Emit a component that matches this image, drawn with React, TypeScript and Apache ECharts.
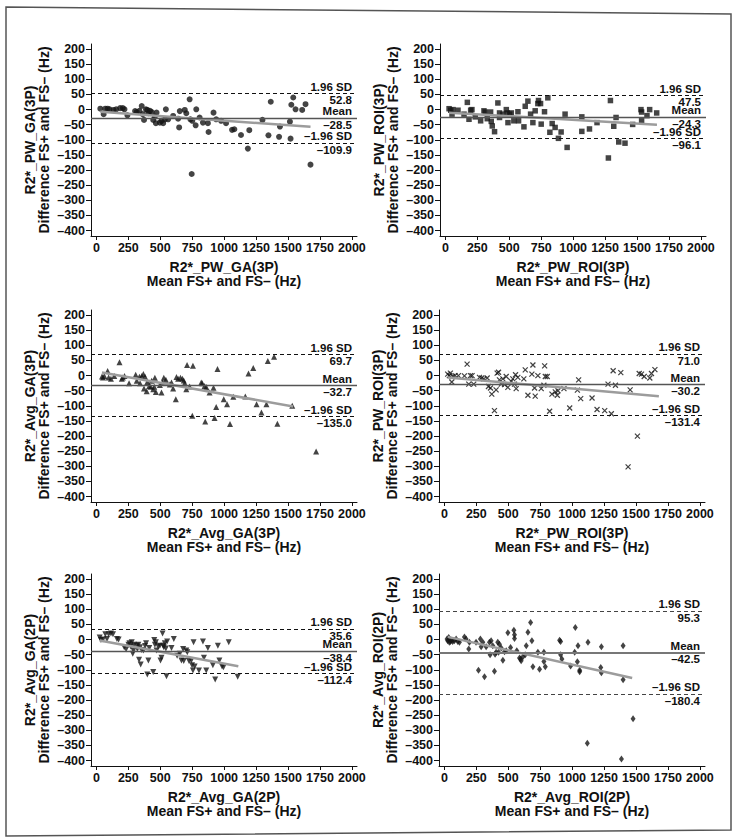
import React, { useEffect, useRef } from "react";
import * as echarts from "echarts";

// ---------- data ----------
const xTickValues = [0, 250, 500, 750, 1000, 1250, 1500, 1750, 2000];
const yTickValues = [200, 150, 100, 50, 0, -50, -100, -150, -200, -250, -300, -350, -400];

const pwGa3pPoints: [number, number][] = [
  [31,3],[57,-15],[70,3],[88,3],[104,1],[135,-1],[155,1],[186,5],[207,5],[220,1],[243,-19],[303,-5],[316,-8],[337,-4],[355,12],[363,-15],[373,-34],[388,1],[399,-1],[407,-12],[420,-4],[433,-8],[445,-34],[458,-23],[466,-45],[471,-10],[497,-43],[510,-37],[523,-45],[536,-32],[544,1],[562,-32],[601,-21],[640,-30],[648,-59],[653,-5],[692,-1],[704,-12],[730,34],[736,-32],[751,-37],[777,-52],[782,1],[808,-26],[834,-43],[873,-45],[878,-74],[917,-10],[938,-32],[976,-37],[1015,-45],[1062,-67],[1080,-65],[1132,-84],[1186,-129],[1197,-68],[1300,-34],[1347,-85],[1365,26],[1430,-90],[1437,-56],[1515,-40],[1520,-96],[1526,16],[1541,40],[1559,1],[1611,-1],[1637,18],[1676,-182],[746,-213]
];
const pwRoi3pPoints: [number, number][] = [
  [29,3],[42,-2],[52,-15],[60,0],[99,-2],[146,-15],[172,24],[185,-32],[198,-2],[208,0],[234,-24],[276,-37],[302,-4],[312,-8],[328,-30],[354,-8],[359,-39],[367,-54],[385,-73],[411,22],[424,-26],[424,-11],[450,-15],[477,0],[484,-11],[490,-43],[503,-15],[516,-11],[536,-37],[568,-7],[573,-37],[615,-57],[625,11],[646,28],[667,-15],[685,-43],[703,-4],[724,20],[729,30],[745,20],[750,-48],[776,-7],[802,39],[818,-75],[836,-46],[859,-59],[885,-95],[906,-74],[937,-15],[953,-125],[1068,-24],[1068,-72],[1128,-64],[1187,-43],[1276,-160],[1292,30],[1318,-55],[1336,-26],[1357,-107],[1406,-111],[1466,-49],[1531,0],[1536,-8],[1536,-37],[1578,-20],[1599,0],[1654,-11]
];
const avgGa3pPoints: [number, number][] = [
  [44,-3],[52,-6],[62,-1],[88,15],[96,-6],[114,-10],[140,-1],[181,44],[199,-10],[207,-6],[220,-1],[256,-25],[308,3],[316,-17],[337,-4],[342,-25],[355,-1],[368,5],[373,-43],[381,-4],[394,-52],[399,-21],[414,-34],[425,-37],[433,-17],[445,-45],[453,-37],[458,-7],[466,-54],[497,-31],[510,-56],[518,-23],[528,-7],[544,-14],[575,-29],[588,-23],[601,-43],[622,-78],[627,-5],[640,-10],[658,-7],[673,-10],[684,-16],[692,-25],[704,-45],[710,35],[730,-36],[751,-133],[756,33],[821,-23],[829,-25],[847,-34],[852,-152],[860,-38],[886,-56],[917,-40],[925,-140],[938,-104],[948,22],[997,-78],[1023,-95],[1046,-160],[1072,-70],[1166,-69],[1191,7],[1228,25],[1254,-95],[1292,-122],[1331,-95],[1342,48],[1391,62],[1417,-159],[1533,-100],[1720,-251]
];
const pwRoi3pBPoints: [number, number][] = [
  [26,5],[39,0],[47,8],[58,-21],[65,-3],[84,0],[110,0],[157,-1],[178,38],[191,-28],[204,0],[217,0],[230,-28],[275,-6],[293,-8],[309,-11],[335,-8],[345,-36],[361,-41],[371,-61],[392,-116],[405,-47],[413,8],[424,11],[431,-14],[445,-28],[458,-11],[471,-30],[484,-3],[497,-39],[523,-19],[536,-11],[549,-28],[557,3],[562,-43],[575,-6],[622,-11],[633,19],[654,-65],[685,5],[693,35],[706,-41],[711,-68],[732,0],[758,-43],[779,-32],[785,32],[790,-3],[805,-3],[824,-118],[842,-61],[868,-54],[884,-65],[889,-50],[936,-43],[981,-107],[1041,-48],[1051,-14],[1067,-76],[1156,-74],[1195,-112],[1255,-116],[1281,-28],[1307,-126],[1321,16],[1339,-32],[1381,10],[1454,-47],[1438,-302],[1511,-200],[1525,7],[1543,5],[1564,-3],[1608,-8],[1621,7],[1648,20]
];
const avgGa2pPoints: [number, number][] = [
  [26,7],[36,-1],[52,0],[70,18],[83,2],[96,18],[114,20],[130,18],[161,2],[174,0],[218,-25],[233,-32],[251,-17],[259,-12],[269,-23],[277,-9],[285,-47],[290,-36],[295,-17],[316,-20],[321,-31],[329,-17],[334,-67],[342,-25],[347,-82],[355,-34],[368,-36],[381,-21],[389,-12],[399,-115],[407,-69],[414,-28],[445,-107],[453,-1],[458,-17],[466,-9],[471,-36],[484,-23],[497,-20],[502,-69],[510,-60],[518,20],[523,-20],[528,-25],[536,-12],[544,-29],[549,-121],[554,-6],[588,-28],[606,2],[632,-53],[653,-47],[666,-69],[679,-31],[684,-71],[704,-36],[712,-42],[725,-71],[743,-69],[749,-85],[756,-102],[761,-9],[769,-89],[803,-102],[834,-6],[842,-60],[860,-102],[873,-28],[912,-85],[930,-132],[951,-20],[963,-69],[984,-89],[995,-91],[1036,-9],[1106,-123]
];
const avgRoi2pPoints: [number, number][] = [
  [21,2],[26,-4],[34,7],[39,-9],[47,-6],[58,-2],[65,-6],[78,-4],[92,2],[105,-6],[118,-9],[157,9],[170,2],[191,-31],[196,-9],[248,-9],[267,-101],[282,2],[288,-24],[301,-9],[314,-123],[327,-24],[353,-9],[358,-50],[366,-4],[379,-20],[392,-105],[397,-48],[405,-42],[418,-9],[424,-42],[431,-15],[445,-28],[458,-68],[471,-40],[484,-37],[497,23],[518,-26],[544,31],[549,16],[549,4],[567,-37],[588,-61],[596,-64],[601,-70],[615,-57],[633,-50],[641,-20],[654,24],[675,57],[685,-4],[693,-90],[732,-42],[745,-98],[779,-42],[779,-72],[790,-90],[902,-2],[910,-6],[910,-50],[920,-64],[988,-87],[1020,-42],[1025,40],[1041,-73],[1046,-20],[1059,-101],[1059,-106],[1124,-9],[1119,-343],[1224,-92],[1229,-110],[1229,-24],[1399,-20],[1399,-133],[1386,-395],[1477,-262]
];

const panelNames = ["R2*_PW_GA(3P)", "R2*_PW_ROI(3P)", "R2*_Avg_GA(3P)", "R2*_PW_ROI(3P)", "R2*_Avg_GA(2P)", "R2*_Avg_ROI(2P)"];
const upperLimits = [52.8, 47.5, 69.7, 71.0, 35.6, 95.3];
const meanDiffs = [-28.5, -24.3, -32.7, -30.2, -38.4, -42.5];
const lowerLimits = [-109.9, -96.1, -135.0, -131.4, -112.4, -180.4];
const regressionLines: [number, number][][] = [
  [[31, -7], [1676, -57]],
  [[29, -10], [1656, -50]],
  [[44, 10], [1540, -102]],
  [[26, -6], [1679, -68]],
  [[26, -3], [1111, -88]],
  [[26, 9], [1470, -127]],
];
const panelPoints = [pwGa3pPoints, pwRoi3pPoints, avgGa3pPoints, pwRoi3pBPoints, avgGa2pPoints, avgRoi2pPoints];

// ---------- styling / layout ----------
const FONT = "'Liberation Sans', Arial, Helvetica, sans-serif";
const GRID_W = 266;
const GRID_H = 192;
const gridPositions = [
  { left: 91, top: 44 },
  { left: 440, top: 44 },
  { left: 91, top: 310 },
  { left: 439, top: 310 },
  { left: 91, top: 574 },
  { left: 439, top: 574 },
];
const markerStyles: any[] = [
  { symbol: "circle", symbolSize: 6, symbolRotate: 0 },
  { symbol: "rect", symbolSize: 5.5, symbolRotate: 0 },
  { symbol: "triangle", symbolSize: 6, symbolRotate: 0 },
  { symbol: "path://M0,0L10,10M10,0L0,10", symbolSize: 5, symbolRotate: 0, cross: true },
  { symbol: "triangle", symbolSize: 6, symbolRotate: 180 },
  { symbol: "diamond", symbolSize: [5, 7], symbolRotate: 0 },
];

const minus = (v: number, digits?: number) => {
  const s = digits === undefined ? String(Math.abs(v)) : Math.abs(v).toFixed(digits);
  return v < 0 ? "\u2013" + s : s;
};

export default function App() {
  const ref = useRef<HTMLDivElement>(null);
  useEffect(() => {
    if (!ref.current) return;
    const chart = echarts.init(ref.current, undefined, { renderer: "svg" });

    const tickLabel = {
      color: "#111",
      fontSize: 12.5,
      fontWeight: "bold",
      fontFamily: FONT,
    };
    const noteLabel = {
      color: "#111",
      fontSize: 11.5,
      fontWeight: "bold",
      fontFamily: FONT,
      lineHeight: 8.5,
    };

    const grid = gridPositions.map((g) => ({
      left: g.left,
      top: g.top,
      width: GRID_W,
      height: GRID_H,
      containLabel: false,
    }));

    const xAxis = gridPositions.map((_, i) => ({
      type: "value",
      gridIndex: i,
      min: -42,
      max: 2040,
      axisLine: { show: true, onZero: false, lineStyle: { color: "#111", width: 1 } },
      axisTick: { show: true, length: 4, customValues: xTickValues, lineStyle: { color: "#111" } },
      axisLabel: { ...tickLabel, margin: 5, customValues: xTickValues, formatter: (v: number) => minus(v) },
      splitLine: { show: false },
    }));

    const yAxis = gridPositions.map((_, i) => ({
      type: "value",
      gridIndex: i,
      min: -418,
      max: 217,
      axisLine: { show: true, onZero: false, lineStyle: { color: "#111", width: 1 } },
      axisTick: { show: true, length: 5, customValues: yTickValues, lineStyle: { color: "#111" } },
      axisLabel: { ...tickLabel, margin: 6, customValues: yTickValues, formatter: (v: number) => minus(v) },
      splitLine: { show: false },
    }));

    const series: any[] = [];
    panelPoints.forEach((pts, i) => {
      const m = markerStyles[i];
      const isLast = i === 5;
      const dashColor = isLast ? "#444" : "#111";
      const meanColor = isLast ? "#777" : "#555";
      const meanWidth = isLast ? 2 : 1.3;
      const lab = (text: string, pos: string) => ({
        show: true,
        formatter: text,
        position: pos,
        distance: [5, 2.5],
        ...noteLabel,
      });
      const hidden = { color: "rgba(255,255,255,0)", width: 1, type: "solid" };
      series.push({
        type: "scatter",
        xAxisIndex: i,
        yAxisIndex: i,
        data: pts,
        symbol: m.symbol,
        symbolSize: m.symbolSize,
        symbolRotate: m.symbolRotate,
        itemStyle: m.cross
          ? { color: "rgba(0,0,0,0)", borderColor: "#111", borderWidth: 1.2 }
          : { color: "#151515" },
        z: 3,
        silent: true,
        markLine: {
          silent: true,
          symbol: ["none", "none"],
          animation: false,
          data: [
            { yAxis: upperLimits[i], lineStyle: { type: [4, 3], color: dashColor, width: 1 }, label: lab("1.96 SD", "insideEndTop") },
            { yAxis: upperLimits[i], lineStyle: hidden, label: lab(minus(upperLimits[i], 1), "insideEndBottom") },
            { yAxis: meanDiffs[i], lineStyle: { type: "solid", color: meanColor, width: meanWidth }, label: lab("Mean", "insideEndTop") },
            { yAxis: meanDiffs[i], lineStyle: hidden, label: lab(minus(meanDiffs[i], 1), "insideEndBottom") },
            { yAxis: lowerLimits[i], lineStyle: { type: [4, 3], color: dashColor, width: 1 }, label: lab("\u20131.96 SD", "insideEndTop") },
            { yAxis: lowerLimits[i], lineStyle: hidden, label: lab(minus(lowerLimits[i], 1), "insideEndBottom") },
          ],
        },
      });
      series.push({
        type: "line",
        xAxisIndex: i,
        yAxisIndex: i,
        data: regressionLines[i],
        symbol: "none",
        showSymbol: false,
        silent: true,
        lineStyle: { color: "#9c9c9c", width: 2.5 },
        z: 4,
      });
    });

    const titleStyle = {
      fill: "#111",
      fontSize: 14,
      fontWeight: "bold",
      fontFamily: FONT,
      align: "center",
      verticalAlign: "middle",
      lineHeight: 14,
    };

    const graphic: any[] = [
      {
        type: "polygon",
        shape: { points: [[6, 7], [731, 14], [731, 830], [6, 836]] },
        style: { fill: "none", stroke: "#555", lineWidth: 1.5 },
        silent: true,
      },
    ];
    gridPositions.forEach((g, i) => {
      graphic.push({
        type: "text",
        x: g.left - 54,
        y: g.top + GRID_H / 2,
        rotation: Math.PI / 2,
        style: { ...titleStyle, text: panelNames[i] + "\nDifference FS+ and FS\u2013 (Hz)" },
        silent: true,
      });
      graphic.push({
        type: "text",
        x: g.left + GRID_W / 2,
        y: g.top + GRID_H + 38,
        style: { ...titleStyle, text: panelNames[i] + "\nMean FS+ and FS\u2013 (Hz)" },
        silent: true,
      });
    });

    chart.setOption({
      animation: false,
      backgroundColor: "#ffffff",
      textStyle: { fontFamily: FONT },
      grid,
      xAxis,
      yAxis,
      series,
      graphic,
    });
    return () => chart.dispose();
  }, []);

  return (
    <div
      ref={ref}
      style={{ position: "absolute", left: 0, top: 0, width: 738, height: 838, background: "#fff" }}
    />
  );
}
